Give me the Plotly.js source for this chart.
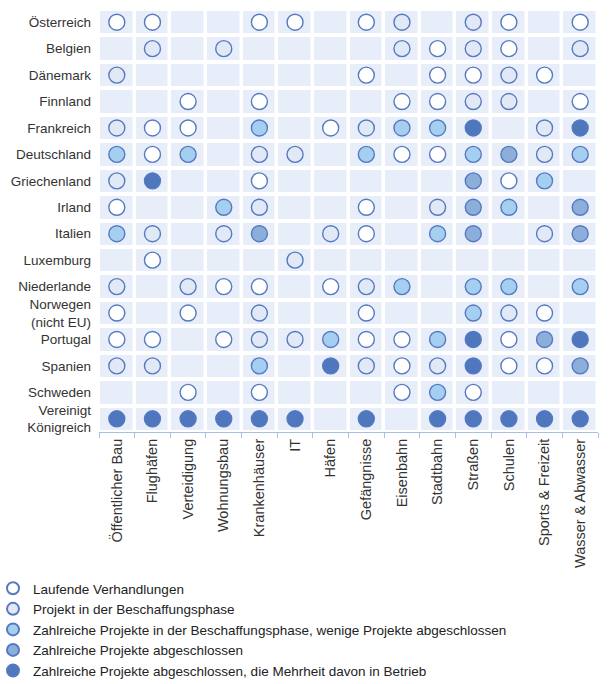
<!DOCTYPE html>
<html>
<head>
<meta charset="utf-8">
<script src="https://cdn.plot.ly/plotly-3.0.1.min.js"></script>
<style>html,body{margin:0;padding:0;background:#fff;}#chart{width:613px;height:684px;}</style>
</head>
<body>
<div id="chart"></div>
<script>
const sectors = ["Öffentlicher Bau","Flughäfen","Verteidigung","Wohnungsbau","Krankenhäuser","IT","Häfen","Gefängnisse","Eisenbahn","Stadtbahn","Straßen","Schulen","Sports & Freizeit","Wasser & Abwasser"];
const countries = ["Österreich","Belgien","Dänemark","Finnland","Frankreich","Deutschland","Griechenland","Irland","Italien","Luxemburg","Niederlande","Norwegen","Portugal","Spanien","Schweden","Vereinigtes Königreich"];
const countryLabels = ["Österreich","Belgien","Dänemark","Finnland","Frankreich","Deutschland","Griechenland","Irland","Italien","Luxemburg","Niederlande","Norwegen<br>(nicht EU)","Portugal","Spanien","Schweden","Vereinigt<br>Königreich"];
const statusNames = ["Laufende Verhandlungen","Projekt in der Beschaffungsphase","Zahlreiche Projekte in der Beschaffungsphase, wenige Projekte abgeschlossen","Zahlreiche Projekte abgeschlossen","Zahlreiche Projekte abgeschlossen, die Mehrheit davon in Betrieb"];
// 0 = kein Eintrag, 1..5 = Status (Reihenfolge wie statusNames)
const statusByCountry = [
  [1,1,0,0,1,1,0,1,2,0,2,1,0,1],
  [0,2,0,2,0,0,0,0,2,1,2,1,0,2],
  [2,0,0,0,0,0,0,1,0,1,1,2,1,0],
  [0,0,1,0,1,0,0,0,1,1,2,2,0,1],
  [2,1,1,0,3,0,1,2,3,3,5,0,2,5],
  [3,1,3,0,2,2,0,3,1,1,3,4,2,3],
  [2,5,0,0,1,0,0,0,0,0,4,1,3,0],
  [1,0,0,3,2,0,0,1,0,2,4,3,0,4],
  [3,2,0,2,4,0,2,1,0,3,4,0,2,4],
  [0,1,0,0,0,2,0,0,0,0,0,0,0,0],
  [2,0,2,1,1,0,1,2,3,0,3,3,0,3],
  [1,0,1,0,2,0,0,1,0,0,3,2,1,0],
  [1,1,0,1,2,2,3,1,1,3,5,1,4,5],
  [2,2,0,0,3,0,5,2,1,2,5,1,1,4],
  [0,0,1,0,1,0,0,0,1,3,1,0,0,0],
  [5,5,5,5,5,5,0,5,0,5,5,5,5,5]
];

const fills = ["#ffffff","#e2e9f6","#a5cff0","#8baedb","#4e77bd"];
const edge = "#5679c0";
const cellBg = "#e8eef9";

const traces = [];
const zBg = countries.map(() => sectors.map(() => 1));
traces.push({
  type: "heatmap", x: sectors, y: countries, z: zBg,
  colorscale: [[0, cellBg],[1, cellBg]], showscale: false,
  xgap: 3.5, ygap: 4, hoverinfo: "skip", showlegend: false
});
for (let s = 1; s <= 5; s++) {
  const xs = [], ys = [];
  statusByCountry.forEach((row, i) => row.forEach((v, j) => {
    if (v === s) { xs.push(sectors[j]); ys.push(countries[i]); }
  }));
  traces.push({
    type: "scatter", mode: "markers", x: xs, y: ys, name: statusNames[s-1],
    marker: { symbol: "circle", size: 16, color: fills[s-1], line: { color: edge, width: 1.4 } }
  });
}

const plotW = 613 - 99 - 15, plotH = 684 - 9 - 252;
const layout = {
  width: 613, height: 684,
  margin: { l: 99, r: 15, t: 9, b: 252, autoexpand: false },
  paper_bgcolor: "#ffffff", plot_bgcolor: "#ffffff",
  font: { family: "Liberation Sans, Arial, sans-serif", size: 14, color: "#333333" },
  xaxis: {
    type: "category", categoryorder: "array", categoryarray: sectors,
    range: [-0.5, 13.5], tickangle: -90, tickson: "boundaries",
    ticks: "outside", ticklen: 5, tickcolor: "#a9bfe2", tickwidth: 1,
    showline: true, linecolor: "#a9bfe2", linewidth: 1,
    showgrid: false, zeroline: false, fixedrange: true,
    tickfont: { size: 14.5, color: "#333333" }
  },
  yaxis: {
    type: "category", categoryorder: "array", categoryarray: countries,
    range: [15.5, -0.5], tickmode: "array", tickvals: countries, ticktext: countryLabels,
    ticks: "", showline: false, showgrid: false, zeroline: false, fixedrange: true,
    ticklabelstandoff: 7,
    tickfont: { size: 13.5, color: "#333333" }
  },
  showlegend: true,
  legend: {
    orientation: "v", xref: "paper", yref: "paper",
    x: -106 / plotW, y: (432 - 573) / plotH, xanchor: "left", yanchor: "top",
    itemsizing: "constant", traceorder: "normal",
    font: { size: 13.5, color: "#222222" }, bgcolor: "rgba(0,0,0,0)", tracegroupgap: 0
  }
};

Plotly.newPlot("chart", traces, layout, { displayModeBar: false, staticPlot: true });
</script>
</body>
</html>
